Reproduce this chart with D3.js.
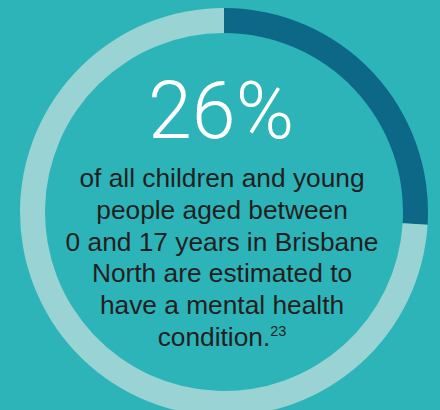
<!DOCTYPE html>
<html>
<head>
<meta charset="utf-8">
<script src="https://cdn.jsdelivr.net/npm/d3@7"></script>
<style>
  body { margin: 0; background: #2cb4b9; }
  svg { display: block; }
</style>
</head>
<body>
<svg id="chart-svg" width="440" height="410"></svg>
<script>
// share of children and young people with a mental health condition
const labels = ["With condition", "Other"];
const values = [26, 74];
const colors = ["#0d6786", "#99d3d4"];
const headline = "26%";
const bodyLines = [
    "of all children and young",
    "people aged between",
    "0 and 17 years in Brisbane",
    "North are estimated to",
    "have a mental health",
    "condition."
];
const footnote = "23";

let svg = d3.select("#chart-svg");
svg.append("rect")
    .attr("width", 440)
    .attr("height", 410)
    .attr("fill", "#2cb4b9");

let ringGroup = svg.append("g")
    .attr("transform", "translate(224,212)");

let pie = d3.pie()
    .sort(null)
    .value(d => d.value);
let arcs = pie(labels.map((l, i) => ({label: l, value: values[i]})));

let arc = d3.arc()
    .innerRadius(179)
    .outerRadius(204);

ringGroup.selectAll("path")
    .data(arcs)
    .enter().append("path")
    .attr("d", arc)
    .attr("fill", (d, i) => colors[i]);

let textGroup = svg.append("g")
    .attr("transform", "translate(222,0)");

textGroup.append("text")
    .attr("x", -1)
    .attr("y", 138)
    .attr("text-anchor", "middle")
    .attr("font-family", "Roboto")
    .attr("font-weight", 300)
    .attr("font-size", 79)
    .attr("fill", "#ffffff")
    .text(headline);

let lineHeight = 31.8;
bodyLines.forEach((line, i) => {
    let t = textGroup.append("text")
        .attr("y", 187 + i * lineHeight)
        .attr("text-anchor", "middle")
        .attr("font-family", "Liberation Sans, Arial, sans-serif")
        .attr("font-size", 26.3)
        .attr("fill", "#231f20");
    t.append("tspan").text(line);
    if (i === bodyLines.length - 1) {
        t.append("tspan")
            .attr("font-size", 14.5)
            .attr("dy", -10)
            .text(footnote);
    }
});
</script>
</body>
</html>
